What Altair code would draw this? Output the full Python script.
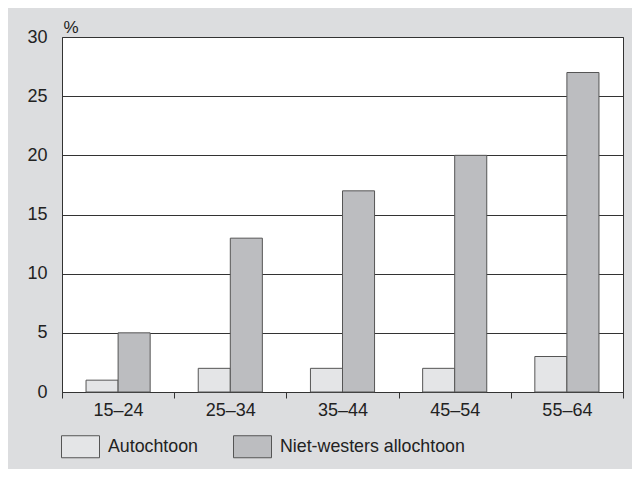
import altair as alt
import pandas as pd

categories = ["15–24", "25–34", "35–44", "45–54", "55–64"]
autochtoon = [1, 2, 2, 2, 3]
niet_westers = [5, 13, 17, 20, 27]
series = ["Autochtoon", "Niet-westers allochtoon"]
colors = ["#e4e5e7", "#bcbdc0"]
y_ticks = [0, 5, 10, 15, 20, 25, 30]

rows = []
for c, a, n in zip(categories, autochtoon, niet_westers):
    rows.append({"leeftijd": c, "groep": series[0], "pct": a})
    rows.append({"leeftijd": c, "groep": series[1], "pct": n})
df = pd.DataFrame(rows)

FONT = "Liberation Sans"

chart = alt.Chart(df).mark_bar(stroke="#555555", strokeWidth=1, opacity=1).encode(
    x=alt.X("leeftijd:N", sort=categories,
            scale=alt.Scale(paddingInner=0, paddingOuter=0),
            axis=alt.Axis(title=None, labelAngle=0, tickBand="extent", tickSize=6,
                          tickColor="#333333", domainColor="#333333", labelPadding=3,
                          labelFontSize=18, labelFont=FONT, labelColor="#222222", grid=False)),
    xOffset=alt.XOffset("groep:N", sort=series,
                        scale=alt.Scale(paddingInner=0, paddingOuter=0.75)),
    y=alt.Y("pct:Q", scale=alt.Scale(domain=[0, 30]),
            axis=alt.Axis(values=y_ticks, title="%", titleAngle=0, titleAlign="left",
                          titleBaseline="alphabetic", titleX=1, titleY=-5,
                          titleFontSize=17, titleFontWeight="normal", titleFont=FONT,
                          titleColor="#222222",
                          ticks=False, domain=False, grid=True, gridColor="#333333",
                          gridWidth=1, labelPadding=15, labelFontSize=18, labelFont=FONT,
                          labelColor="#222222")),
    fill=alt.Fill("groep:N", sort=series,
                  scale=alt.Scale(domain=series, range=colors),
                  legend=alt.Legend(title=None, orient="none", legendX=-1, legendY=390,
                                    direction="horizontal",
                                    symbolType="M-1,-0.579H1V0.579H-1Z", symbolSize=1444,
                                    symbolStrokeColor="#555555", symbolStrokeWidth=1,
                                    symbolOpacity=1, labelFontSize=17.8, labelFont=FONT,
                                    labelColor="#222222", labelOffset=8, columnPadding=33,
                                    labelLimit=300)),
).properties(
    width=561, height=355,
    background="#dcdddf",
    padding={"left": 54, "top": 29, "right": 9, "bottom": 77},
    autosize=alt.AutoSizeParams(type="none"),
).configure_view(fill="white", stroke="#333333", strokeWidth=1)

chart.save("out.html", embed_options={"renderer": "svg", "actions": False})
